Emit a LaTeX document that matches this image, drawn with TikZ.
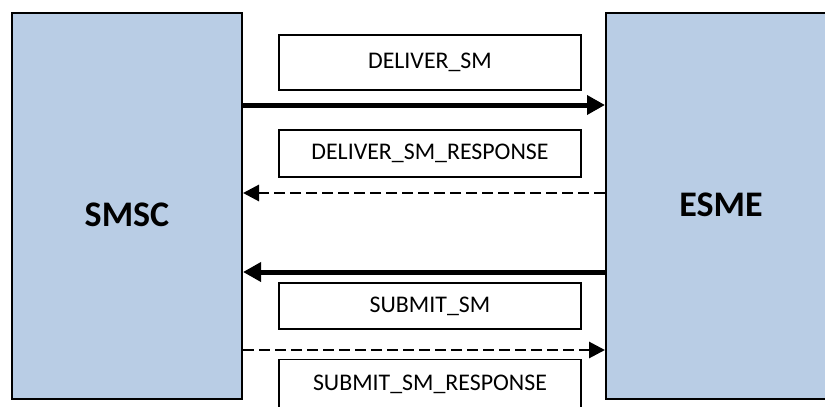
\documentclass[tikz,border=0pt]{standalone}
\usepackage{fontspec}
\setmainfont{Carlito}
\usetikzlibrary{arrows.meta}
\definecolor{entityblue}{HTML}{B9CDE5}
\tikzset{
  entity/.style={draw=black, line width=1.5pt, fill=entityblue, rectangle, inner sep=0pt},
  entitylabel/.style={font=\fontsize{27}{30}\selectfont\bfseries, inner sep=0pt},
  msgbox/.style={draw=black, line width=0.9pt, fill=white, rectangle, inner sep=0pt,
    minimum width=226.5pt, font=\fontsize{17.9}{20}\selectfont},
  request/.style={line width=3.75pt, -{Triangle[length=13.5pt,width=14pt]}},
  response/.style={line width=2.2pt, dash pattern=on 8pt off 4pt,
    -{Triangle[length=12pt,width=12pt]}}
}
\begin{document}
\begin{tikzpicture}[x=0.75pt, y=-0.75pt]
  \useasboundingbox (0,0) rectangle (825,407);
  \clip (0,0) rectangle (825,407);
  \fill[white] (0,0) rectangle (825,407);

  % the two parties
  \node[entity, minimum width=172.5pt, minimum height=289.5pt] (smsc) at (127,206) {};
  \node[entity, minimum width=172.5pt, minimum height=289.5pt] (esme) at (721,206) {};
  \node[entitylabel] (smsctext) at (127,215) {SMSC};
  \node[entitylabel] (esmetext) at (721,205) {ESME};

  % message labels
  \node[msgbox, minimum height=41.25pt] (m1) at (430,62.5) {DELIVER\_SM};
  \node[msgbox, minimum height=35.25pt] (m2) at (430,153.5) {DELIVER\_SM\_RESPONSE};
  \node[msgbox, minimum height=34.5pt] (m3) at (430,306) {SUBMIT\_SM};
  \node[msgbox, minimum height=38pt] (m4) at (430,384.5) {SUBMIT\_SM\_RESPONSE};

  % message flow
  \draw[request]  (smsc.east |- 0,105) -- (esme.west |- 0,105);
  \draw[response] (esme.west |- 0,193) -- (smsc.east |- 0,193);
  \draw[request]  (esme.west |- 0,272) -- (smsc.east |- 0,272);
  \draw[response] (smsc.east |- 0,350) -- (esme.west |- 0,350);
\end{tikzpicture}
\end{document}
